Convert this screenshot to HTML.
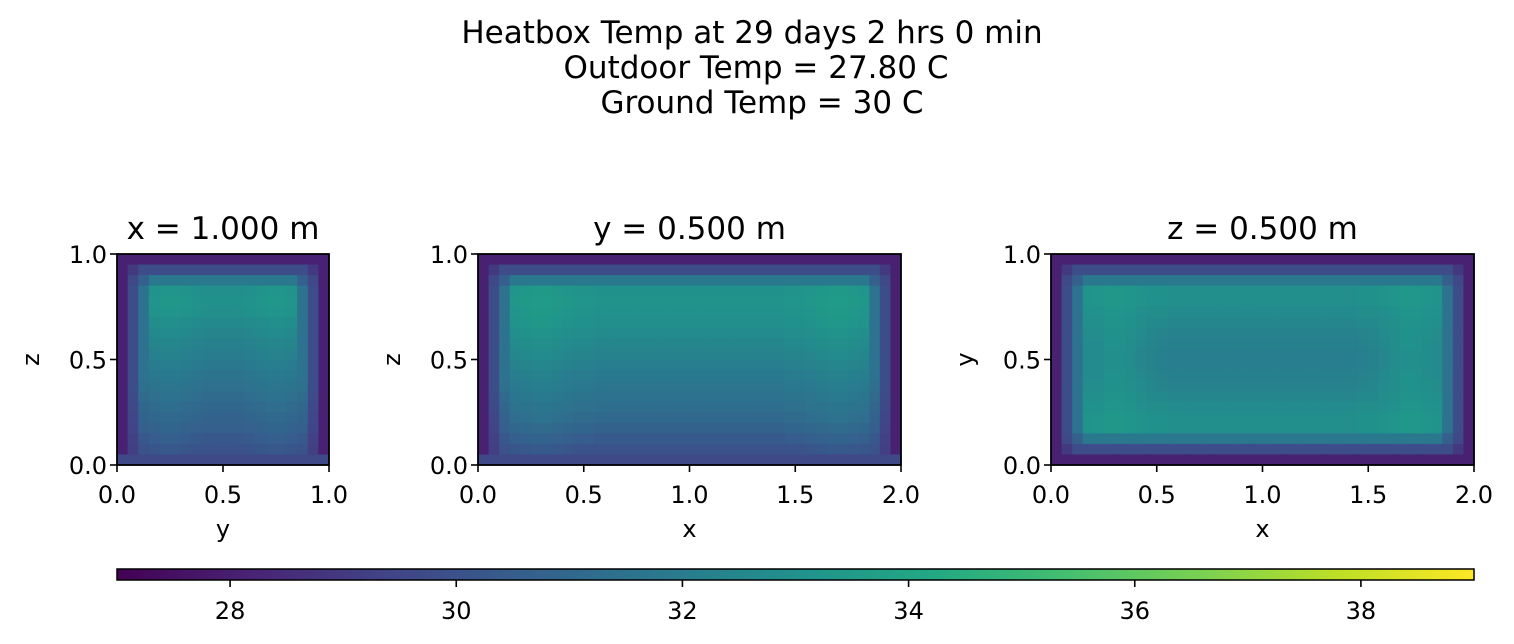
<!DOCTYPE html>
<html><head><meta charset="utf-8">
<style>
html,body{margin:0;padding:0;background:#fff;}
svg{display:block;font-family:"DejaVu Sans","Liberation Sans",sans-serif;}
</style></head>
<body>
<svg id="fig" width="1514" height="644" viewBox="0 0 1514 644" xmlns="http://www.w3.org/2000/svg">
<g font-size="31" text-anchor="middle" fill="#000">
<text x="752" y="43">Heatbox Temp at 29 days 2 hrs 0 min</text>
<text x="756" y="78">Outdoor Temp = 27.80 C</text>
<text x="762" y="113">Ground Temp = 30 C</text>
</g>
</svg>
<script>
const vmin = 27, vmax = 39;
const cbTicks = [28, 30, 32, 34, 36, 38];
// Panel 1: x = 1.000 m (cols = y, rows = z, top to bottom)
const panel1Rows = [
[28.1,28.1,28.1,28.1,28.1,28.1,28.1,28.1,28.1,28.1,28.1,28.1,28.1,28.1,28.1,28.1,28.1,28.1,28.1,28.1],
[28.1,29.0,29.8,29.8,29.8,29.8,29.8,29.8,29.8,29.8,29.8,29.8,29.8,29.8,29.8,29.8,29.8,29.8,29.0,28.1],
[28.1,29.6,30.6,31.8,31.8,31.8,31.8,31.8,31.8,31.8,31.8,31.8,31.8,31.8,31.8,31.8,31.8,30.6,29.6,28.1],
[28.1,29.8,31.5,33.1,33.2,33.2,33.1,33.0,32.9,32.9,32.9,32.9,33.0,33.1,33.2,33.2,33.1,31.5,29.8,28.1],
[28.1,29.8,31.5,33.2,33.3,33.3,33.2,33.1,33.0,33.0,33.0,33.0,33.1,33.2,33.3,33.3,33.2,31.5,29.8,28.1],
[28.1,29.8,31.5,33.1,33.2,33.2,33.1,33.0,32.9,32.9,32.9,32.9,33.0,33.1,33.2,33.2,33.1,31.5,29.8,28.1],
[28.1,29.8,31.5,32.8,32.9,32.9,32.8,32.7,32.6,32.6,32.6,32.6,32.7,32.8,32.9,32.9,32.8,31.5,29.8,28.1],
[28.1,29.8,31.5,32.6,32.7,32.7,32.6,32.5,32.4,32.4,32.4,32.4,32.5,32.6,32.7,32.7,32.6,31.5,29.8,28.1],
[28.1,29.8,31.5,32.4,32.5,32.5,32.4,32.3,32.2,32.2,32.2,32.2,32.3,32.4,32.5,32.5,32.4,31.5,29.8,28.1],
[28.1,29.8,31.5,32.2,32.3,32.3,32.2,32.1,32.0,32.0,32.0,32.0,32.1,32.2,32.3,32.3,32.2,31.5,29.8,28.1],
[28.1,29.8,31.5,32.0,32.1,32.1,32.0,31.9,31.8,31.8,31.8,31.8,31.9,32.0,32.1,32.1,32.0,31.5,29.8,28.1],
[28.1,29.8,31.5,31.8,31.9,31.9,31.8,31.7,31.6,31.6,31.6,31.6,31.7,31.8,31.9,31.9,31.8,31.5,29.8,28.1],
[28.1,29.8,31.4,31.6,31.7,31.7,31.6,31.5,31.4,31.4,31.4,31.4,31.5,31.6,31.7,31.7,31.6,31.4,29.8,28.1],
[28.1,29.7,31.2,31.4,31.5,31.5,31.4,31.3,31.2,31.2,31.2,31.2,31.3,31.4,31.5,31.5,31.4,31.2,29.7,28.1],
[28.1,29.6,31.0,31.2,31.3,31.3,31.2,31.1,31.0,31.0,31.0,31.0,31.1,31.2,31.3,31.3,31.2,31.0,29.6,28.1],
[28.1,29.5,30.8,31.0,31.1,31.1,31.0,30.9,30.8,30.8,30.8,30.8,30.9,31.0,31.1,31.1,31.0,30.8,29.5,28.1],
[28.1,29.4,30.6,30.8,30.9,30.9,30.8,30.7,30.6,30.6,30.6,30.6,30.7,30.8,30.9,30.9,30.8,30.6,29.4,28.1],
[28.1,29.3,30.3,30.5,30.6,30.6,30.5,30.4,30.3,30.3,30.3,30.3,30.4,30.5,30.6,30.6,30.5,30.3,29.3,28.1],
[28.1,29.2,30.0,30.2,30.3,30.3,30.2,30.1,30.0,30.0,30.0,30.0,30.1,30.2,30.3,30.3,30.2,30.0,29.2,28.1],
[29.6,29.6,29.6,29.6,29.6,29.6,29.6,29.6,29.6,29.6,29.6,29.6,29.6,29.6,29.6,29.6,29.6,29.6,29.6,29.6]
];
// Panel 2: y = 0.500 m (cols = x, rows = z, top to bottom)
const panel2Rows = [
[28.1,28.1,28.1,28.1,28.1,28.1,28.1,28.1,28.1,28.1,28.1,28.1,28.1,28.1,28.1,28.1,28.1,28.1,28.1,28.1,28.1,28.1,28.1,28.1,28.1,28.1,28.1,28.1,28.1,28.1,28.1,28.1,28.1,28.1,28.1,28.1,28.1,28.1,28.1,28.1],
[28.1,29.0,29.8,29.8,29.8,29.8,29.8,29.8,29.8,29.8,29.8,29.8,29.8,29.8,29.8,29.8,29.8,29.8,29.8,29.8,29.8,29.8,29.8,29.8,29.8,29.8,29.8,29.8,29.8,29.8,29.8,29.8,29.8,29.8,29.8,29.8,29.8,29.8,29.0,28.1],
[28.1,29.6,30.6,31.8,31.8,31.8,31.8,31.8,31.8,31.8,31.8,31.8,31.8,31.8,31.8,31.8,31.8,31.8,31.8,31.8,31.8,31.8,31.8,31.8,31.8,31.8,31.8,31.8,31.8,31.8,31.8,31.8,31.8,31.8,31.8,31.8,31.8,30.6,29.6,28.1],
[28.1,29.8,31.5,33.2,33.3,33.4,33.4,33.3,33.2,33.1,33.1,33.0,33.0,33.0,33.0,33.0,33.0,33.0,33.0,33.0,33.0,33.0,33.0,33.0,33.0,33.0,33.0,33.0,33.0,33.1,33.1,33.2,33.3,33.4,33.4,33.3,33.2,31.5,29.8,28.1],
[28.1,29.8,31.5,33.3,33.4,33.5,33.5,33.4,33.3,33.2,33.2,33.1,33.1,33.1,33.1,33.1,33.1,33.1,33.1,33.1,33.1,33.1,33.1,33.1,33.1,33.1,33.1,33.1,33.1,33.2,33.2,33.3,33.4,33.5,33.5,33.4,33.3,31.5,29.8,28.1],
[28.1,29.8,31.5,33.2,33.3,33.4,33.4,33.3,33.2,33.1,33.1,33.0,33.0,33.0,33.0,33.0,33.0,33.0,33.0,33.0,33.0,33.0,33.0,33.0,33.0,33.0,33.0,33.0,33.0,33.1,33.1,33.2,33.3,33.4,33.4,33.3,33.2,31.5,29.8,28.1],
[28.1,29.8,31.5,33.1,33.2,33.3,33.3,33.2,33.1,33.0,33.0,32.9,32.9,32.9,32.9,32.9,32.9,32.9,32.9,32.9,32.9,32.9,32.9,32.9,32.9,32.9,32.9,32.9,32.9,33.0,33.0,33.1,33.2,33.3,33.3,33.2,33.1,31.5,29.8,28.1],
[28.1,29.8,31.5,32.9,33.0,33.1,33.1,33.0,32.9,32.8,32.8,32.7,32.7,32.7,32.7,32.7,32.7,32.7,32.7,32.7,32.7,32.7,32.7,32.7,32.7,32.7,32.7,32.7,32.7,32.8,32.8,32.9,33.0,33.1,33.1,33.0,32.9,31.5,29.8,28.1],
[28.1,29.8,31.5,32.7,32.8,32.9,32.9,32.8,32.7,32.6,32.6,32.5,32.5,32.5,32.5,32.5,32.5,32.5,32.5,32.5,32.5,32.5,32.5,32.5,32.5,32.5,32.5,32.5,32.5,32.6,32.6,32.7,32.8,32.9,32.9,32.8,32.7,31.5,29.8,28.1],
[28.1,29.8,31.5,32.5,32.6,32.7,32.7,32.6,32.5,32.4,32.4,32.3,32.3,32.3,32.3,32.3,32.3,32.3,32.3,32.3,32.3,32.3,32.3,32.3,32.3,32.3,32.3,32.3,32.3,32.4,32.4,32.5,32.6,32.7,32.7,32.6,32.5,31.5,29.8,28.1],
[28.1,29.8,31.5,32.3,32.4,32.5,32.5,32.4,32.3,32.2,32.2,32.1,32.1,32.1,32.1,32.1,32.1,32.1,32.1,32.1,32.1,32.1,32.1,32.1,32.1,32.1,32.1,32.1,32.1,32.2,32.2,32.3,32.4,32.5,32.5,32.4,32.3,31.5,29.8,28.1],
[28.1,29.8,31.5,32.1,32.2,32.3,32.3,32.2,32.1,32.0,32.0,31.9,31.9,31.9,31.9,31.9,31.9,31.9,31.9,31.9,31.9,31.9,31.9,31.9,31.9,31.9,31.9,31.9,31.9,32.0,32.0,32.1,32.2,32.3,32.3,32.2,32.1,31.5,29.8,28.1],
[28.1,29.8,31.4,31.9,32.0,32.1,32.1,32.0,31.9,31.8,31.8,31.7,31.7,31.7,31.7,31.7,31.7,31.7,31.7,31.7,31.7,31.7,31.7,31.7,31.7,31.7,31.7,31.7,31.7,31.8,31.8,31.9,32.0,32.1,32.1,32.0,31.9,31.4,29.8,28.1],
[28.1,29.7,31.2,31.7,31.8,31.9,31.9,31.8,31.7,31.6,31.6,31.5,31.5,31.5,31.5,31.5,31.5,31.5,31.5,31.5,31.5,31.5,31.5,31.5,31.5,31.5,31.5,31.5,31.5,31.6,31.6,31.7,31.8,31.9,31.9,31.8,31.7,31.2,29.7,28.1],
[28.1,29.6,31.0,31.5,31.6,31.7,31.7,31.6,31.5,31.4,31.4,31.3,31.3,31.3,31.3,31.3,31.3,31.3,31.3,31.3,31.3,31.3,31.3,31.3,31.3,31.3,31.3,31.3,31.3,31.4,31.4,31.5,31.6,31.7,31.7,31.6,31.5,31.0,29.6,28.1],
[28.1,29.5,30.8,31.3,31.4,31.5,31.5,31.4,31.3,31.2,31.2,31.1,31.1,31.1,31.1,31.1,31.1,31.1,31.1,31.1,31.1,31.1,31.1,31.1,31.1,31.1,31.1,31.1,31.1,31.2,31.2,31.3,31.4,31.5,31.5,31.4,31.3,30.8,29.5,28.1],
[28.1,29.4,30.6,31.0,31.1,31.2,31.2,31.1,31.0,30.9,30.9,30.8,30.8,30.8,30.8,30.8,30.8,30.8,30.8,30.8,30.8,30.8,30.8,30.8,30.8,30.8,30.8,30.8,30.8,30.9,30.9,31.0,31.1,31.2,31.2,31.1,31.0,30.6,29.4,28.1],
[28.1,29.3,30.3,30.6,30.7,30.8,30.8,30.7,30.6,30.5,30.5,30.4,30.4,30.4,30.4,30.4,30.4,30.4,30.4,30.4,30.4,30.4,30.4,30.4,30.4,30.4,30.4,30.4,30.4,30.5,30.5,30.6,30.7,30.8,30.8,30.7,30.6,30.3,29.3,28.1],
[28.1,29.2,30.0,30.2,30.3,30.4,30.4,30.3,30.2,30.1,30.1,30.0,30.0,30.0,30.0,30.0,30.0,30.0,30.0,30.0,30.0,30.0,30.0,30.0,30.0,30.0,30.0,30.0,30.0,30.1,30.1,30.2,30.3,30.4,30.4,30.3,30.2,30.0,29.2,28.1],
[29.6,29.6,29.6,29.6,29.6,29.6,29.6,29.6,29.6,29.6,29.6,29.6,29.6,29.6,29.6,29.6,29.6,29.6,29.6,29.6,29.6,29.6,29.6,29.6,29.6,29.6,29.6,29.6,29.6,29.6,29.6,29.6,29.6,29.6,29.6,29.6,29.6,29.6,29.6,29.6]
];
// Panel 3: z = 0.500 m (cols = x, rows = y, top to bottom)
const panel3Rows = [
[28.1,28.1,28.1,28.1,28.1,28.1,28.1,28.1,28.1,28.1,28.1,28.1,28.1,28.1,28.1,28.1,28.1,28.1,28.1,28.1,28.1,28.1,28.1,28.1,28.1,28.1,28.1,28.1,28.1,28.1,28.1,28.1,28.1,28.1,28.1,28.1,28.1,28.1,28.1,28.1],
[28.1,29.0,29.8,29.8,29.8,29.8,29.8,29.8,29.8,29.8,29.8,29.8,29.8,29.8,29.8,29.8,29.8,29.8,29.8,29.8,29.8,29.8,29.8,29.8,29.8,29.8,29.8,29.8,29.8,29.8,29.8,29.8,29.8,29.8,29.8,29.8,29.8,29.8,29.0,28.1],
[28.1,29.6,30.6,31.8,31.8,31.8,31.8,31.8,31.8,31.8,31.8,31.8,31.8,31.8,31.8,31.8,31.8,31.8,31.8,31.8,31.8,31.8,31.8,31.8,31.8,31.8,31.8,31.8,31.8,31.8,31.8,31.8,31.8,31.8,31.8,31.8,31.8,30.6,29.6,28.1],
[28.1,29.8,31.5,33.1,33.2,33.3,33.3,33.2,33.1,33.0,33.0,32.9,32.9,32.9,32.9,32.9,32.9,32.9,32.9,32.9,32.9,32.9,32.9,32.9,32.9,32.9,32.9,32.9,32.9,33.0,33.0,33.1,33.2,33.3,33.3,33.2,33.1,31.5,29.8,28.1],
[28.1,29.8,31.5,33.1,33.2,33.3,33.3,33.2,33.1,33.0,33.0,32.9,32.9,32.9,32.9,32.9,32.9,32.9,32.9,32.9,32.9,32.9,32.9,32.9,32.9,32.9,32.9,32.9,32.9,33.0,33.0,33.1,33.2,33.3,33.3,33.2,33.1,31.5,29.8,28.1],
[28.1,29.8,31.5,33.0,33.0,33.2,33.2,33.1,32.9,32.8,32.8,32.7,32.7,32.7,32.7,32.7,32.7,32.7,32.7,32.7,32.7,32.7,32.7,32.7,32.7,32.7,32.7,32.7,32.7,32.8,32.8,32.9,33.0,33.2,33.2,33.1,33.0,31.5,29.8,28.1],
[28.1,29.8,31.5,32.9,32.9,33.1,33.1,33.0,32.8,32.6,32.6,32.5,32.5,32.5,32.5,32.5,32.5,32.5,32.5,32.5,32.5,32.5,32.5,32.5,32.5,32.5,32.5,32.5,32.5,32.6,32.6,32.8,32.9,33.1,33.1,33.0,32.9,31.5,29.8,28.1],
[28.1,29.8,31.5,32.8,32.8,33.0,33.0,32.9,32.7,32.5,32.4,32.3,32.3,32.3,32.3,32.3,32.3,32.3,32.3,32.3,32.3,32.3,32.3,32.3,32.3,32.3,32.3,32.3,32.3,32.4,32.5,32.7,32.8,33.0,33.0,32.9,32.8,31.5,29.8,28.1],
[28.1,29.8,31.5,32.7,32.7,33.0,33.0,32.8,32.6,32.4,32.3,32.2,32.2,32.2,32.2,32.2,32.2,32.2,32.2,32.2,32.2,32.2,32.2,32.2,32.2,32.2,32.2,32.2,32.2,32.3,32.4,32.6,32.8,33.0,33.0,32.8,32.7,31.5,29.8,28.1],
[28.1,29.8,31.5,32.7,32.7,32.9,32.9,32.8,32.5,32.3,32.2,32.1,32.1,32.1,32.1,32.1,32.1,32.1,32.1,32.1,32.1,32.1,32.1,32.1,32.1,32.1,32.1,32.1,32.1,32.2,32.3,32.5,32.8,32.9,32.9,32.8,32.7,31.5,29.8,28.1],
[28.1,29.8,31.5,32.7,32.7,32.9,32.9,32.8,32.5,32.3,32.2,32.1,32.1,32.1,32.1,32.1,32.1,32.1,32.1,32.1,32.1,32.1,32.1,32.1,32.1,32.1,32.1,32.1,32.1,32.2,32.3,32.5,32.8,32.9,32.9,32.8,32.7,31.5,29.8,28.1],
[28.1,29.8,31.5,32.7,32.7,33.0,33.0,32.8,32.6,32.4,32.3,32.2,32.2,32.2,32.2,32.2,32.2,32.2,32.2,32.2,32.2,32.2,32.2,32.2,32.2,32.2,32.2,32.2,32.2,32.3,32.4,32.6,32.8,33.0,33.0,32.8,32.7,31.5,29.8,28.1],
[28.1,29.8,31.5,32.8,32.8,33.0,33.0,32.9,32.7,32.5,32.4,32.3,32.3,32.3,32.3,32.3,32.3,32.3,32.3,32.3,32.3,32.3,32.3,32.3,32.3,32.3,32.3,32.3,32.3,32.4,32.5,32.7,32.8,33.0,33.0,32.9,32.8,31.5,29.8,28.1],
[28.1,29.8,31.5,32.9,32.9,33.1,33.1,33.0,32.8,32.6,32.6,32.5,32.5,32.5,32.5,32.5,32.5,32.5,32.5,32.5,32.5,32.5,32.5,32.5,32.5,32.5,32.5,32.5,32.5,32.6,32.6,32.8,32.9,33.1,33.1,33.0,32.9,31.5,29.8,28.1],
[28.1,29.8,31.5,33.0,33.0,33.2,33.2,33.1,32.9,32.8,32.8,32.7,32.7,32.7,32.7,32.7,32.7,32.7,32.7,32.7,32.7,32.7,32.7,32.7,32.7,32.7,32.7,32.7,32.7,32.8,32.8,32.9,33.0,33.2,33.2,33.1,33.0,31.5,29.8,28.1],
[28.1,29.8,31.5,33.1,33.2,33.3,33.3,33.2,33.1,33.0,33.0,32.9,32.9,32.9,32.9,32.9,32.9,32.9,32.9,32.9,32.9,32.9,32.9,32.9,32.9,32.9,32.9,32.9,32.9,33.0,33.0,33.1,33.2,33.3,33.3,33.2,33.1,31.5,29.8,28.1],
[28.1,29.8,31.5,33.1,33.2,33.3,33.3,33.2,33.1,33.0,33.0,32.9,32.9,32.9,32.9,32.9,32.9,32.9,32.9,32.9,32.9,32.9,32.9,32.9,32.9,32.9,32.9,32.9,32.9,33.0,33.0,33.1,33.2,33.3,33.3,33.2,33.1,31.5,29.8,28.1],
[28.1,29.6,30.6,31.8,31.8,31.8,31.8,31.8,31.8,31.8,31.8,31.8,31.8,31.8,31.8,31.8,31.8,31.8,31.8,31.8,31.8,31.8,31.8,31.8,31.8,31.8,31.8,31.8,31.8,31.8,31.8,31.8,31.8,31.8,31.8,31.8,31.8,30.6,29.6,28.1],
[28.1,29.0,29.8,29.8,29.8,29.8,29.8,29.8,29.8,29.8,29.8,29.8,29.8,29.8,29.8,29.8,29.8,29.8,29.8,29.8,29.8,29.8,29.8,29.8,29.8,29.8,29.8,29.8,29.8,29.8,29.8,29.8,29.8,29.8,29.8,29.8,29.8,29.8,29.0,28.1],
[28.1,28.1,28.1,28.1,28.1,28.1,28.1,28.1,28.1,28.1,28.1,28.1,28.1,28.1,28.1,28.1,28.1,28.1,28.1,28.1,28.1,28.1,28.1,28.1,28.1,28.1,28.1,28.1,28.1,28.1,28.1,28.1,28.1,28.1,28.1,28.1,28.1,28.1,28.1,28.1]
];
const panel1XTicks = ["0.0","0.5","1.0"];
const panel23XTicks = ["0.0","0.5","1.0","1.5","2.0"];
const yTickLabels = ["0.0","0.5","1.0"];

const NS = "http://www.w3.org/2000/svg";
const svg = document.getElementById('fig');
const VIR = [[68,1,84],[72,36,117],[65,68,135],[53,95,141],[42,120,142],[33,145,140],[34,168,132],[68,190,112],[122,209,81],[189,223,38],[253,231,37]];
function viridis(t){
  t = Math.max(0, Math.min(1, t));
  const s = t * (VIR.length - 1), i = Math.min(Math.floor(s), VIR.length - 2), f = s - i;
  const a = VIR[i], b = VIR[i+1];
  return 'rgb(' + a.map((v,k) => Math.round(v + (b[k]-v)*f)).join(',') + ')';
}
function colorOf(v){ return viridis((v - vmin) / (vmax - vmin)); }
function mk(tag, attrs, parent){
  const e = document.createElementNS(NS, tag);
  for (const k in attrs) e.setAttribute(k, attrs[k]);
  (parent || svg).appendChild(e);
  return e;
}
const TICK_FS = 24, TITLE_FS = 31;
function drawPanel(key, rows, x0, x1, y0, y1, xmax, xticks, title, xl, yl){
  const g = mk('g', {});
  
  
  const nr = rows.length, nc = rows[0].length;
  const xs = v => x0 + (v / xmax) * (x1 - x0);
  const ys = v => y1 - v * (y1 - y0);
  const cw = (x1 - x0) / nc, ch = (y1 - y0) / nr;
  rows.forEach((row, r) => row.forEach((v, c) => {
    const cell = mk('rect', {x: x0 + c*cw, y: y0 + r*ch, width: cw + 0.6, height: ch + 0.6, fill: colorOf(v)}, g);
    
    
  }));
  const frame = mk('rect', {x: x0, y: y0, width: x1-x0, height: y1-y0, fill: 'none', stroke: '#000', 'stroke-width': 1.8}, g);
  
  
  xticks.forEach(t => {
    const x = xs(parseFloat(t));
    mk('line', {x1: x, x2: x, y1: y1, y2: y1 + 7, stroke: '#000', 'stroke-width': 1.6}, g);
    const tx = mk('text', {x: x, y: y1 + 38, 'font-size': TICK_FS, 'text-anchor': 'middle'}, g);
    tx.textContent = t;
    
    
  });
  yTickLabels.forEach(t => {
    const y = ys(parseFloat(t));
    mk('line', {x1: x0 - 7, x2: x0, y1: y, y2: y, stroke: '#000', 'stroke-width': 1.6}, g);
    const tx = mk('text', {x: x0 - 10, y: y + 9, 'font-size': TICK_FS, 'text-anchor': 'end'}, g);
    tx.textContent = t;
    
    
  });
  const tt = mk('text', {x: (x0+x1)/2, y: y0 - 15, 'font-size': TITLE_FS, 'text-anchor': 'middle'}, g);
  tt.textContent = title;
  
  
  const xt = mk('text', {x: (x0+x1)/2, y: y1 + 72, 'font-size': TICK_FS, 'text-anchor': 'middle'}, g);
  xt.textContent = xl;
  
  
  const yx = x0 - 78, yy = (y0+y1)/2;
  const yt = mk('text', {x: yx, y: yy, 'font-size': TICK_FS, 'text-anchor': 'middle', transform: 'rotate(-90 ' + yx + ' ' + yy + ')'}, g);
  yt.textContent = yl;
  
  
}
drawPanel('x-slice', panel1Rows, 117, 329, 254, 465, 1, panel1XTicks, 'x = 1.000 m', 'y', 'z');
drawPanel('y-slice', panel2Rows, 478, 901, 254, 465, 2, panel23XTicks, 'y = 0.500 m', 'x', 'z');
drawPanel('z-slice', panel3Rows, 1051, 1474, 254, 465, 2, panel23XTicks, 'z = 0.500 m', 'x', 'y');

// colorbar
const cb = mk('g', {});


const cbx0 = 117, cbx1 = 1474, cby0 = 569, cby1 = 580;
const cbx = v => cbx0 + (v - vmin) / (vmax - vmin) * (cbx1 - cbx0);
const defs = mk('defs', {}, cb);
const grad = mk('linearGradient', {id: 'vgrad', x1: 0, x2: 1, y1: 0, y2: 0}, defs);
VIR.forEach((c, i) => mk('stop', {offset: (i/(VIR.length-1)), 'stop-color': 'rgb(' + c.join(',') + ')'}, grad));
mk('rect', {x: cbx0, y: cby0, width: cbx1-cbx0, height: cby1-cby0, fill: 'url(#vgrad)', stroke: '#000', 'stroke-width': 1.5}, cb);
cbTicks.forEach(t => {
  const x = cbx(t);
  mk('line', {x1: x, x2: x, y1: cby1, y2: cby1 + 7, stroke: '#000', 'stroke-width': 1.6}, cb);
  const tx = mk('text', {x: x, y: cby1 + 39, 'font-size': TICK_FS, 'text-anchor': 'middle'}, cb);
  tx.textContent = t;
  
  
});
</script>
</body></html>
